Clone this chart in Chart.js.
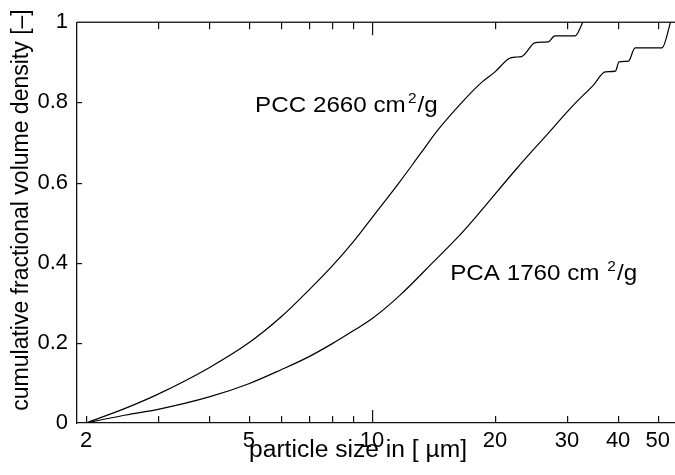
<!DOCTYPE html>
<html>
<head>
<meta charset="utf-8">
<script src="https://cdn.jsdelivr.net/npm/chart.js@4.4.1/dist/chart.umd.min.js"></script>
<style>
  html, body { margin: 0; padding: 0; background: #fff; }
</style>
</head>
<body>
<canvas id="psd-chart" width="675" height="475"></canvas>
<script>
// Cumulative particle size distribution

// PCC 2660 cm2/g
var pccSize = [2, 2.5, 3, 4, 5, 6, 7, 8, 9, 10, 11.72, 13.1, 14.55, 16.6, 18.6, 20, 21.6, 22.4, 23.2, 25.1, 27, 28, 31.4, 32.8];
var pccFrac = [0, 0.037, 0.072, 0.138, 0.20, 0.265, 0.331, 0.392, 0.452, 0.512, 0.603, 0.67, 0.733, 0.80, 0.851, 0.876, 0.909, 0.913, 0.914, 0.949, 0.951, 0.966, 0.966, 1.0];

// PCA 1760 cm2/g
var pcaSize = [2, 2.5, 3, 4, 5, 6, 7, 8, 9, 10, 11.72, 14.14, 16.44, 18.05, 22.6, 26.5, 31.1, 34.8, 37.2, 39.4, 40.2, 42.4, 44, 51.2, 53.4, 53.7];
var pcaFrac = [0, 0.020, 0.034, 0.065, 0.098, 0.133, 0.165, 0.198, 0.23, 0.26, 0.319, 0.402, 0.47, 0.517, 0.635, 0.714, 0.793, 0.843, 0.876, 0.878, 0.901, 0.903, 0.936, 0.936, 0.99, 1.0];

// axis ticks
var xTickLabels = [2, 5, 10, 20, 30, 40, 50];
var xTickMarks = [2, 3, 4, 5, 6, 7, 8, 9, 10, 20, 30, 40, 50];
var yTicks = [0, 0.2, 0.4, 0.6, 0.8, 1];

var fontFamily = "'Liberation Sans', Arial, Helvetica, sans-serif";

function toPoints(xs, ys) {
    var pts = [];
    for (var i = 0; i < xs.length; i++) {
        pts.push({ x: xs[i], y: ys[i] });
    }
    return pts;
}

// draws a label like "PCC 2660 cm^2/g", slightly widened like the original
function drawSurfaceLabel(ctx, x, y, head, gap) {
    ctx.save();
    ctx.translate(x, y);
    ctx.scale(1.1, 1);
    ctx.fillStyle = "#000";
    ctx.textBaseline = "alphabetic";
    ctx.textAlign = "left";
    ctx.font = "22px " + fontFamily;
    ctx.fillText(head, 0, 0);
    var w = ctx.measureText(head).width + gap;
    ctx.font = "14px " + fontFamily;
    ctx.fillText("2", w, -9);
    w += ctx.measureText("2").width + 1;
    ctx.font = "22px " + fontFamily;
    ctx.fillText("/g", w, 0);
    ctx.restore();
}

// frame, inward ticks, axis titles and curve labels
var decorations = {
    id: "decorations",
    afterDraw: function(chart) {
        var c = chart.ctx;
        var area = chart.chartArea;
        var xs = chart.scales.x;
        var ys = chart.scales.y;

        c.save();
        c.fillStyle = "#111";

        // top line
        c.fillRect(area.left, area.top - 0.6, area.right - area.left, 1.3);

        // x ticks, bottom and top (10 is the long one)
        for (var i = 0; i < xTickMarks.length; i++) {
            var v = xTickMarks[i];
            var px = Math.round(xs.getPixelForValue(v));
            var len = (v === 10) ? 13 : 7;
            c.fillRect(px, area.bottom - len, 1.2, len);
            if (v !== 2) {
                c.fillRect(px, area.top, 1.2, len);
            }
        }

        // y ticks
        for (var j = 1; j < yTicks.length - 1; j++) {
            var py = Math.round(ys.getPixelForValue(yTicks[j]));
            c.fillRect(area.left, py, 5, 1.2);
        }

        // y axis title
        c.fillStyle = "#000";
        c.font = "23px " + fontFamily;
        c.textAlign = "center";
        c.textBaseline = "middle";
        c.save();
        c.translate(22, 210);
        c.rotate(-Math.PI / 2);
        c.fillText("cumulative fractional volume density [\u2013]", 0, 0);
        c.restore();

        // x axis title
        c.save();
        c.translate((area.left + area.right) / 2 - 18, 457);
        c.scale(1.07, 1);
        c.textBaseline = "alphabetic";
        c.fillText("particle size in [ \u00b5m]", 0, 0);
        c.restore();

        c.restore();

        // curve labels
        drawSurfaceLabel(c, xs.getPixelForValue(5.18), ys.getPixelForValue(0.776), "PCC 2660 cm", 2);
        drawSurfaceLabel(c, xs.getPixelForValue(15.54), ys.getPixelForValue(0.356), "PCA 1760 cm ", 1);
    }
};

var ctx = document.getElementById("psd-chart").getContext("2d");

var chartData = {
    datasets: [{
        label: "PCC 2660 cm2/g",
        data: toPoints(pccSize, pccFrac),
        borderColor: "#000",
        borderWidth: 1.2,
        pointRadius: 0,
        cubicInterpolationMode: "monotone",
        fill: false
    }, {
        label: "PCA 1760 cm2/g",
        data: toPoints(pcaSize, pcaFrac),
        borderColor: "#000",
        borderWidth: 1.2,
        pointRadius: 0,
        cubicInterpolationMode: "monotone",
        fill: false
    }]
};

var config = {
    type: "line",
    data: chartData,
    options: {
        responsive: false,
        animation: false,
        layout: { padding: { top: 22, right: 0, bottom: 0, left: 0 } },
        plugins: {
            legend: { display: false },
            tooltip: { enabled: false }
        },
        scales: {
            x: {
                type: "logarithmic",
                min: 1.9,
                max: 55.1,
                afterBuildTicks: function(scale) {
                    scale.ticks = xTickLabels.map(function(v) { return { value: v }; });
                },
                afterFit: function(scale) { scale.height = 52; },
                grid: { display: false, drawTicks: false },
                border: { display: true, color: "#111", width: 1.3 },
                ticks: {
                    autoSkip: false,
                    maxRotation: 0,
                    padding: 5,
                    color: "#000",
                    font: { family: fontFamily, size: 22 },
                    callback: function(v) { return String(v); }
                }
            },
            y: {
                min: 0,
                max: 1,
                afterBuildTicks: function(scale) {
                    scale.ticks = yTicks.map(function(v) { return { value: v }; });
                },
                afterFit: function(scale) { scale.width = 77; },
                grid: { display: false, drawTicks: false },
                border: { display: true, color: "#111", width: 1.3 },
                ticks: {
                    padding: 9,
                    color: "#000",
                    font: { family: fontFamily, size: 22 },
                    callback: function(v) {
                        if (v === 0) return "0";
                        if (v === 1) return "1";
                        return v.toFixed(1);
                    }
                }
            }
        }
    },
    plugins: [decorations]
};

// Create the chart
var psdChart = new Chart(ctx, config);
</script>
</body>
</html>
